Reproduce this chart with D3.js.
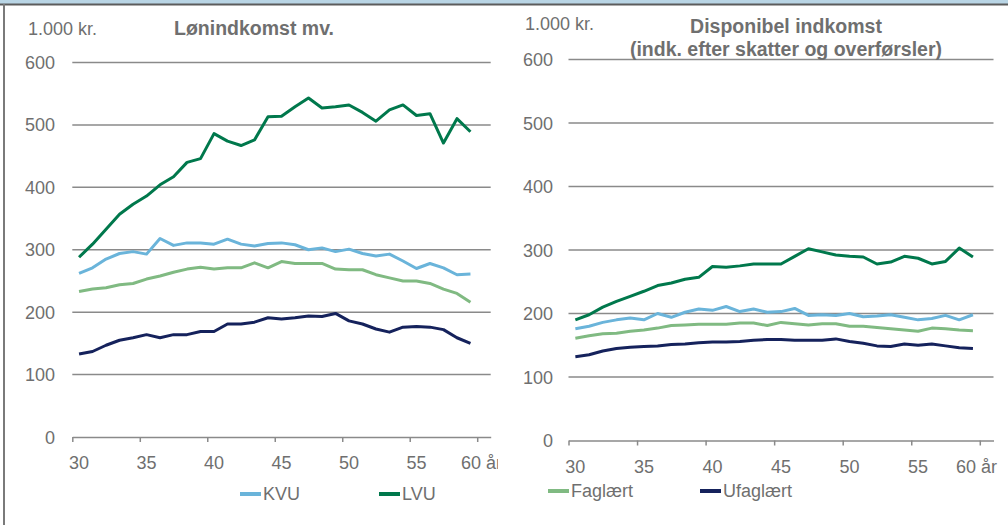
<!DOCTYPE html>
<html>
<head>
<meta charset="utf-8">
<script src="https://cdn.jsdelivr.net/npm/d3@7"></script>
<style>
  body { margin: 0; background: #fff; }
  text { font-family: "Liberation Sans", Arial, sans-serif; fill: #6f6f6f; }
</style>
</head>
<body>
<div id="graph"></div>
<script>
const w = 1008;
const h = 525;

// categories (age)
const ages = [30, 31, 32, 33, 34, 35, 36, 37, 38, 39, 40, 41, 42, 43, 44, 45, 46, 47, 48, 49, 50, 51, 52, 53, 54, 55, 56, 57, 58, 59];
const tickLabels = ["30", "35", "40", "45", "50", "55", "60 år"];
const yTicks = [0, 100, 200, 300, 400, 500, 600];

// Lønindkomst mv. (1.000 kr.)
const lonKVU = [262, 271, 285, 294, 297, 293, 318, 307, 311, 311, 309, 317, 309, 306, 310, 311, 308, 300, 303, 297, 301, 294, 290, 293, 282, 270, 278, 271, 260, 261];
const lonLVU = [288, 309, 333, 357, 373, 386, 404, 417, 440, 446, 486, 474, 467, 476, 513, 514, 529, 543, 527, 529, 532, 520, 506, 524, 532, 515, 518, 471, 510, 489];
const lonFag = [233, 237, 239, 244, 246, 253, 258, 264, 269, 272, 269, 271, 271, 279, 271, 281, 278, 278, 278, 269, 268, 268, 260, 255, 250, 250, 246, 237, 230, 216];
const lonUfag = [133, 137, 147, 155, 159, 164, 159, 164, 164, 169, 169, 181, 181, 184, 191, 189, 191, 194, 193, 198, 186, 181, 173, 168, 176, 177, 176, 172, 159, 150];

// Disponibel indkomst (1.000 kr.)
const dispKVU = [176, 180, 186, 190, 193, 190, 200, 194, 202, 207, 205, 211, 203, 207, 202, 203, 208, 197, 198, 197, 200, 195, 196, 198, 194, 190, 192, 197, 190, 198];
const dispLVU = [190, 198, 210, 219, 227, 235, 244, 248, 254, 257, 274, 273, 275, 278, 278, 278, 290, 302, 297, 292, 290, 289, 278, 281, 290, 287, 278, 282, 303, 289];
const dispFag = [161, 165, 168, 169, 172, 174, 177, 181, 182, 183, 183, 183, 185, 185, 181, 186, 184, 182, 184, 184, 180, 180, 178, 176, 174, 172, 177, 176, 174, 173];
const dispUfag = [132, 135, 141, 145, 147, 148, 149, 151, 152, 154, 155, 155, 156, 158, 159, 159, 158, 158, 158, 160, 156, 153, 149, 148, 152, 150, 152, 149, 146, 145];

const colors = {
  KVU: "#6ab4da",
  LVU: "#00784c",
  Faglært: "#80ba82",
  Ufaglært: "#15225c",
};

const svg = d3.select("#graph").append("svg").attr("width", w).attr("height", h);

// frame
svg.append("rect").attr("x", 0).attr("y", 0).attr("width", w).attr("height", 4).attr("fill", "#b9d5e5");
svg.append("rect").attr("x", 0).attr("y", 3.5).attr("width", w).attr("height", 2).attr("fill", "#5c5c5c");
svg.append("rect").attr("x", 3).attr("y", 4).attr("width", 2).attr("height", h).attr("fill", "#7a7a7a");

const panel = (p) => {
  const g = svg.append("g");
  const x = d3.scaleLinear().domain([29.5, 60.5]).range(p.xr);
  const y = d3.scaleLinear().domain([0, 600]).range(p.yr);

  g.append("clipPath").attr("id", p.id).append("rect")
    .attr("x", p.xr[0] - 80).attr("y", 0).attr("width", p.clipR - p.xr[0] + 80).attr("height", h);

  // grid
  g.append("g")
    .selectAll("line")
    .data(yTicks.filter((d) => d > 0))
    .enter()
    .append("line")
    .attr("x1", p.xr[0])
    .attr("x2", p.xr[1])
    .attr("y1", (d) => y(d))
    .attr("y2", (d) => y(d))
    .attr("stroke", "#8a8a8a")
    .attr("stroke-width", 1.5);

  // y labels
  g.append("g")
    .selectAll("text")
    .data(yTicks)
    .enter()
    .append("text")
    .attr("x", p.yLabelX)
    .attr("y", (d) => y(d) + 6.5)
    .attr("text-anchor", "end")
    .attr("font-size", 18)
    .text((d) => d);

  // x axis
  const ax = g.append("g")
    .attr("transform", `translate(0,${y(0)})`)
    .call(d3.axisBottom(x).tickValues([29.5, 34.5, 39.5, 44.5, 49.5, 54.5, 59.5]).tickSize(5).tickSizeOuter(0).tickFormat(""));
  ax.selectAll("line, path").attr("stroke", "#8a8a8a").attr("stroke-width", 1.5);

  g.append("g")
    .attr("clip-path", `url(#${p.id})`)
    .selectAll("text")
    .data(tickLabels)
    .enter()
    .append("text")
    .attr("x", (d, i) => (i < tickLabels.length - 1 ? x(30 + i * 5) : p.lastLabelX))
    .attr("y", y(0) + 32)
    .attr("text-anchor", (d, i) => (i < tickLabels.length - 1 ? "middle" : "start"))
    .attr("font-size", 18)
    .text((d) => d);

  // lines
  const line = d3.line().x((d, i) => x(ages[i])).y((d) => y(d));
  p.series.forEach((s) => {
    g.append("path")
      .datum(s.values)
      .attr("d", line)
      .attr("fill", "none")
      .attr("stroke", colors[s.name])
      .attr("stroke-width", 3)
      .attr("stroke-linejoin", "round");
  });

  // titles
  g.append("text").attr("x", p.unitX).attr("y", p.unitY).attr("font-size", 18).text("1.000 kr.");
  p.title.forEach((t, i) => {
    g.append("text")
      .attr("x", p.titleX)
      .attr("y", p.titleY + i * 23)
      .attr("text-anchor", "middle")
      .attr("font-size", 19.5)
      .attr("font-weight", "bold")
      .text(t);
  });

  // legend
  p.legend.forEach((l) => {
    g.append("line")
      .attr("x1", l.x).attr("x2", l.x + 21)
      .attr("y1", p.legendY - 6).attr("y2", p.legendY - 6)
      .attr("stroke", colors[l.name]).attr("stroke-width", 4);
    g.append("text").attr("x", l.x + 23).attr("y", p.legendY).attr("font-size", 18).text(l.name);
  });
};

panel({
  id: "clipL",
  xr: [72.3, 490.7],
  yr: [437, 62.5],
  clipR: 498,
  yLabelX: 55,
  lastLabelX: 461,
  unitX: 28, unitY: 35,
  title: ["Lønindkomst mv."],
  titleX: 254, titleY: 35,
  legendY: 500,
  legend: [{ name: "KVU", x: 240 }, { name: "LVU", x: 379 }],
  series: [
    { name: "KVU", values: lonKVU },
    { name: "Faglært", values: lonFag },
    { name: "Ufaglært", values: lonUfag },
    { name: "LVU", values: lonLVU },
  ],
});

panel({
  id: "clipR",
  xr: [568.5, 993.5],
  yr: [440.5, 59.5],
  clipR: 1001,
  yLabelX: 553,
  lastLabelX: 956,
  unitX: 525, unitY: 30,
  title: ["Disponibel indkomst", "(indk. efter skatter og overførsler)"],
  titleX: 786, titleY: 33,
  legendY: 497,
  legend: [{ name: "Faglært", x: 548 }, { name: "Ufaglært", x: 700 }],
  series: [
    { name: "Faglært", values: dispFag },
    { name: "Ufaglært", values: dispUfag },
    { name: "KVU", values: dispKVU },
    { name: "LVU", values: dispLVU },
  ],
});
</script>
</body>
</html>
